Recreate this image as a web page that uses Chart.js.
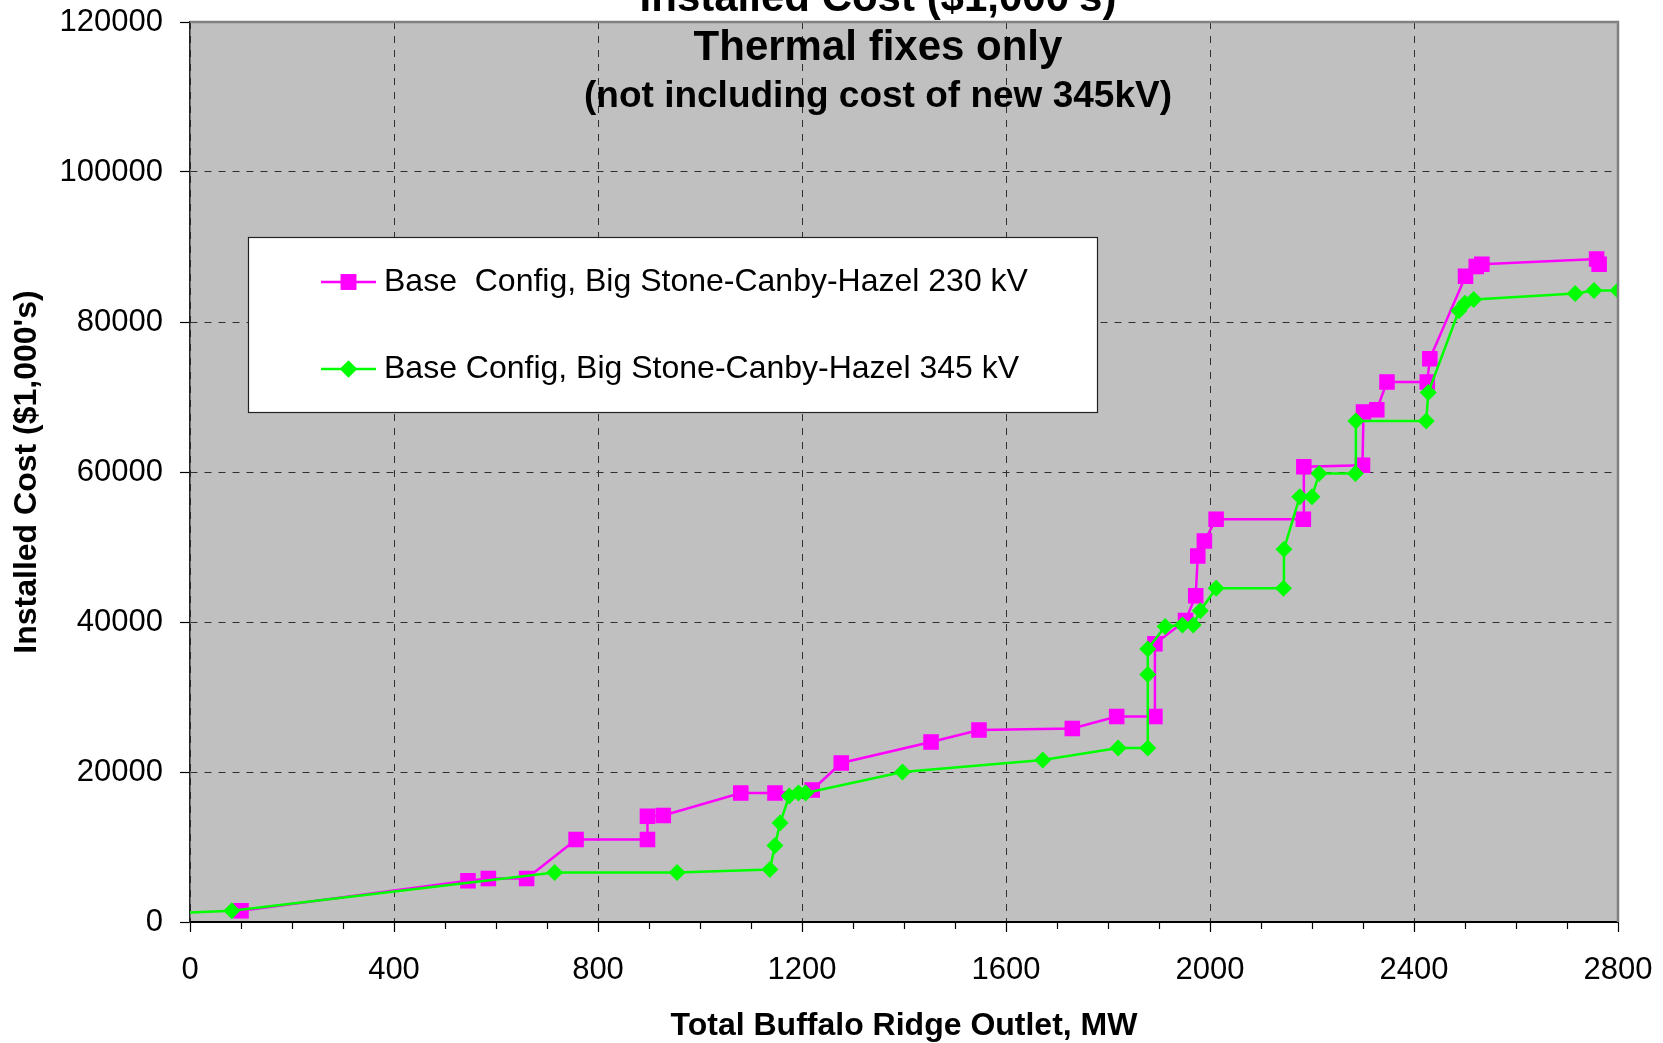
<!DOCTYPE html>
<html><head><meta charset="utf-8">
<script src="https://cdn.jsdelivr.net/npm/chart.js@4.4.0/dist/chart.umd.min.js"></script>
<style>html,body{margin:0;padding:0;background:#fff;} canvas{display:block;}</style>
</head><body>
<canvas id="c" width="1663" height="1043" style="width:1663px;height:1043px"></canvas>
<script>
// ---- chart text ----
const titleLines = ["Installed Cost ($1,000's)", "Thermal fixes only", "(not including cost of new 345kV)"];
const xAxisTitle = "Total Buffalo Ridge Outlet, MW";
const yAxisTitle = "Installed Cost ($1,000's)";
const seriesNames = ["Base  Config, Big Stone-Canby-Hazel 230 kV", "Base Config, Big Stone-Canby-Hazel 345 kV"];

// ---- axis ranges ----
const xRange = [0, 2800];
const xMajorStep = 400;
const xMinorStep = 100;
const yRange = [0, 120000];
const yMajorStep = 20000;

// ---- series 1: 230 kV (magenta squares) ----
const pinkX = [100, 545, 585, 660, 757, 897, 897, 928, 1080, 1147, 1220, 1277, 1453, 1547, 1730, 1817, 1892, 1892, 1952, 1972, 1976, 1989, 2012, 2183, 2184, 2299, 2301, 2327, 2347, 2426, 2431, 2501, 2522, 2533, 2758, 2763];
const pinkY = [1500, 5500, 5800, 5800, 11000, 11000, 14100, 14200, 17200, 17200, 17600, 21200, 24000, 25600, 25800, 27400, 27400, 37100, 40200, 43500, 48800, 50800, 53700, 53700, 60700, 60900, 68000, 68300, 72000, 72000, 75100, 86100, 87400, 87700, 88400, 87700];

// ---- series 2: 345 kV (green diamonds) ----
const greenX = [0, 82, 715, 955, 1137, 1147, 1157, 1175, 1193, 1207, 1397, 1672, 1820, 1878, 1878, 1878, 1912, 1946, 1967, 1981, 2012, 2144, 2145, 2176, 2200, 2214, 2285, 2286, 2424, 2428, 2488, 2500, 2517, 2716, 2753, 2800];
const greenY = [1250, 1500, 6600, 6600, 7000, 10200, 13200, 16800, 17200, 17200, 20000, 21600, 23200, 23200, 33000, 36400, 39400, 39600, 39600, 41500, 44500, 44500, 49700, 56700, 56700, 59800, 59800, 66800, 66800, 70600, 81500, 82500, 83000, 83800, 84200, 84200];

const FF = "'Liberation Sans', Arial, Helvetica, sans-serif";
const toPts = (xs, ys) => xs.map((x, i) => ({x: x, y: ys[i]}));

const plotDecor = {
  id: 'plotDecor',
  beforeDraw(chart) {
    const {ctx, chartArea: a} = chart;
    ctx.save();
    ctx.fillStyle = '#ffffff';
    ctx.fillRect(0, 0, chart.width, chart.height);
    ctx.fillStyle = '#C0C0C0';
    ctx.fillRect(a.left, a.top, a.right - a.left, a.bottom - a.top);
    ctx.restore();
  },
  afterDraw(chart) {
    const {ctx, chartArea: a} = chart;
    const xs = chart.scales.x;
    ctx.save();
    // top & right plot borders
    ctx.strokeStyle = '#808080';
    ctx.lineWidth = 2.5;
    ctx.beginPath();
    ctx.moveTo(a.left, a.top); ctx.lineTo(a.right, a.top); ctx.lineTo(a.right, a.bottom);
    ctx.stroke();
    // minor ticks on x axis
    ctx.strokeStyle = '#000';
    ctx.lineWidth = 1.2;
    ctx.beginPath();
    for (let v = xRange[0] + xMinorStep; v < xRange[1]; v += xMinorStep) {
      if (v % xMajorStep === 0) continue;
      const px = Math.round(xs.getPixelForValue(v)) + 0.5;
      ctx.moveTo(px, a.bottom); ctx.lineTo(px, a.bottom + 7);
    }
    ctx.stroke();

    // legend box
    const L = a.left + 58, T = a.top + 215, W = 849, H = 175;
    ctx.fillStyle = '#ffffff';
    ctx.fillRect(L, T, W, H);
    ctx.strokeStyle = '#222';
    ctx.lineWidth = 1.2;
    ctx.strokeRect(L + 0.5, T + 0.5, W, H);
    const rows = [T + 45, T + 132];
    chart.data.datasets.forEach((ds, i) => {
      const y = rows[i];
      ctx.strokeStyle = ds.borderColor;
      ctx.lineWidth = ds.borderWidth;
      ctx.beginPath();
      ctx.moveTo(L + 73, y); ctx.lineTo(L + 128, y);
      ctx.stroke();
      ctx.fillStyle = ds.backgroundColor;
      Chart.helpers.drawPoint(ctx, {pointStyle: ds.pointStyle, radius: ds.legendRadius, borderWidth: 0, rotation: 0}, L + 100.5, y);
      ctx.fill();
      ctx.fillStyle = '#000';
      ctx.font = '32px ' + FF;
      ctx.textAlign = 'left';
      ctx.textBaseline = 'middle';
      ctx.fillText(ds.label, L + 136, y);
    });

    // title lines
    const cx = (a.left + a.right) / 2 - 26;
    ctx.fillStyle = '#000';
    ctx.textAlign = 'center';
    ctx.textBaseline = 'alphabetic';
    ctx.font = 'bold 42px ' + FF;
    ctx.fillText(titleLines[0], cx, a.top - 11);
    ctx.fillText(titleLines[1], cx, a.top + 38);
    ctx.font = 'bold 37px ' + FF;
    ctx.fillText(titleLines[2], cx, a.top + 85);
    ctx.restore();
  }
};

new Chart(document.getElementById('c'), {
  type: 'scatter',
  data: {
    datasets: [
      {
        label: seriesNames[0],
        data: toPts(pinkX, pinkY),
        showLine: true,
        borderColor: '#FF00FF',
        backgroundColor: '#FF00FF',
        borderWidth: 2.5,
        pointStyle: 'rect',
        pointRadius: 11,
        pointBorderWidth: 0,
        legendRadius: 11,
        tension: 0,
        order: 1
      },
      {
        label: seriesNames[1],
        data: toPts(greenX, greenY),
        showLine: true,
        borderColor: '#00FF00',
        backgroundColor: '#00FF00',
        borderWidth: 2.5,
        pointStyle: 'rectRot',
        pointRadius: (c) => c.dataIndex === 0 ? 0 : 8.5,
        pointBorderWidth: 0,
        legendRadius: 8.5,
        tension: 0,
        order: 0
      }
    ]
  },
  options: {
    responsive: false,
    devicePixelRatio: 1,
    animation: false,
    layout: {padding: {left: 0, top: 22, right: 45, bottom: 0}},
    plugins: {legend: {display: false}, tooltip: {enabled: false}, title: {display: false}},
    scales: {
      x: {
        type: 'linear',
        min: xRange[0], max: xRange[1],
        afterFit: (s) => { s.height = 121; s.paddingLeft = 0; s.paddingRight = 0; },
        ticks: {
          stepSize: xMajorStep, autoSkip: false, maxRotation: 0, padding: 20,
          color: '#000', font: {family: FF, size: 31},
          callback: (v) => String(v)
        },
        grid: {color: '#303030', lineWidth: 1, tickColor: '#000', tickLength: 10, tickWidth: 1.2, tickBorderDash: []},
        border: {display: true, color: '#000', width: 2, dash: [7, 7]},
        title: {display: true, text: xAxisTitle, color: '#000', font: {family: FF, size: 32, weight: 'bold'}, padding: {top: 0, bottom: -2.5}}
      },
      y: {
        type: 'linear',
        min: yRange[0], max: yRange[1],
        afterFit: (s) => { s.width = 190; s.paddingTop = 0; s.paddingBottom = 0; },
        ticks: {
          stepSize: yMajorStep, autoSkip: false, padding: 17,
          color: '#000', font: {family: FF, size: 31},
          callback: (v) => String(v)
        },
        grid: {color: '#303030', lineWidth: 1, tickColor: '#000', tickLength: 10, tickWidth: 1.2, tickBorderDash: []},
        border: {display: true, color: '#222', width: 1.5, dash: [7, 7]},
        title: {display: true, text: yAxisTitle, color: '#000', font: {family: FF, size: 32, weight: 'bold'}, padding: {top: 8, bottom: 0}}
      }
    }
  },
  plugins: [plotDecor]
});
</script>
</body></html>
